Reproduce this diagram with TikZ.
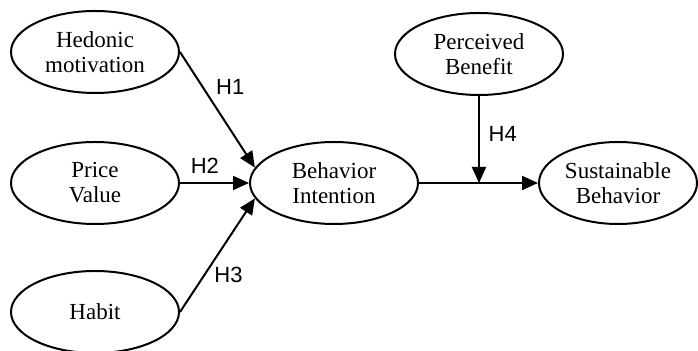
\documentclass[tikz,border=0pt]{standalone}
\usepackage{fontspec}
\setmainfont{Liberation Serif}
\newfontfamily\hlabelfont{Liberation Sans}
\usetikzlibrary{arrows.meta,shapes.geometric}

\begin{document}
\begin{tikzpicture}[x=0.5pt,y=-0.5pt]
  \tikzset{construct/.style={draw, line width=1pt, ellipse, inner sep=0pt,
      minimum width=84pt, minimum height=41pt, align=center,
      font=\fontsize{11.5}{12.5}\selectfont},
    path arrow/.style={line width=1pt, -{Triangle[length=8pt,width=7pt]}},
    hyp/.style={font=\hlabelfont\fontsize{11}{12}\selectfont}}
  \useasboundingbox (0,0) rectangle (698,351);
  % exogenous constructs
  \node[construct] (hedonic) at (95,52) {Hedonic\\motivation};
  \node[construct] (price) at (95,183) {Price\\Value};
  \node[construct] (habit) at (95,312) {Habit};
  % mediator, moderator and outcome
  \node[construct] (intention) at (334,183) {Behavior\\Intention};
  \node[construct] (benefit) at (479,54) {Perceived\\Benefit};
  \node[construct, minimum width=79pt] (sustain) at (618,183) {Sustainable\\Behavior};
  \coordinate (moderate) at (benefit |- intention.east);
  \draw[path arrow] (hedonic.east) -- node[hyp, pos=0.3, right=3pt] {H1} (intention.169);
  \draw[path arrow] (price.east) -- node[hyp, pos=0.36, above=1pt] {H2} (intention.west);
  \draw[path arrow] (habit.east) -- node[hyp, pos=0.33, right=1pt] {H3} (intention.191);
  \draw[path arrow] (intention.east) -- (sustain.west);
  \draw[path arrow] (benefit.south) -- node[hyp, pos=0.44, right=1pt] {H4} (moderate);
\end{tikzpicture}
\end{document}
